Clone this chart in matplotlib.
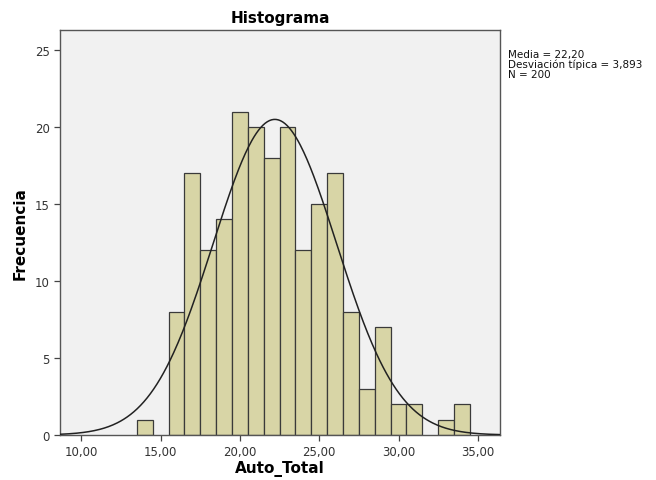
import numpy as np
import matplotlib
matplotlib.use("Agg")
import matplotlib.pyplot as plt

bin_centers = [14, 16, 17, 18, 19, 20, 21, 22, 23, 24, 25, 26, 27, 28, 29, 30, 31, 33, 34]
counts = [1, 8, 17, 12, 14, 21, 20, 18, 20, 12, 15, 17, 8, 3, 7, 2, 2, 1, 2]
mean_val = 22.20
sd_val = 3.893
n_val = 200
bin_width = 1.0
xticks = [10, 15, 20, 25, 30, 35]
xtick_labels = ["10,00", "15,00", "20,00", "25,00", "30,00", "35,00"]
yticks = [0, 5, 10, 15, 20, 25]

fig = plt.figure(figsize=(6.56, 4.81), dpi=100)
ax = fig.add_axes([60/656, 1-436/481, 440/656, 405/481])
ax.set_facecolor("#f1f1f1")

ax.bar(bin_centers, counts, width=bin_width, color="#d8d5a6", edgecolor="#3a3a3a", linewidth=0.9, zorder=2)

xlim = (8.65, 36.4)
xs = np.linspace(xlim[0], xlim[1], 400)
ys = n_val * bin_width / (sd_val * np.sqrt(2*np.pi)) * np.exp(-0.5*((xs-mean_val)/sd_val)**2)
ax.plot(xs, ys, color="#222222", linewidth=1.1, zorder=3)

ax.set_xlim(*xlim)
ax.set_ylim(0, 26.3)
ax.set_xticks(xticks)
ax.set_xticklabels(xtick_labels)
ax.set_yticks(yticks)
ax.tick_params(axis="both", direction="out", length=4, width=0.9, colors="#444444", labelsize=8.5)
for lab in ax.get_xticklabels() + ax.get_yticklabels():
    lab.set_color("#333333")
for s in ax.spines.values():
    s.set_color("#555555")
    s.set_linewidth(1.0)

ax.set_title("Histograma", fontsize=11, fontweight="bold", pad=6)
ax.set_xlabel("Auto_Total", fontsize=11, fontweight="bold", labelpad=1)
ax.set_ylabel("Frecuencia", fontsize=11, fontweight="bold", labelpad=5)

stats = "Media = 22,20\nDesviación típica = 3,893\nN = 200"
fig.text(508/656, 1-50/481, stats, fontsize=7.5, va="top", ha="left", linespacing=0.95, color="#111111")

fig.savefig("out.png", dpi=100)
